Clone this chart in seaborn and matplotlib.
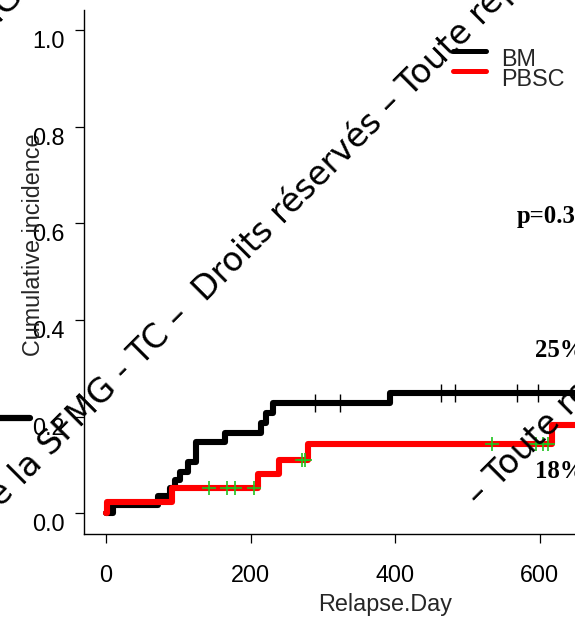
import numpy as np
import pandas as pd
import matplotlib
matplotlib.use("Agg")
import matplotlib.pyplot as plt
import seaborn as sns
from matplotlib.lines import Line2D
from matplotlib.transforms import ScaledTranslation

# ---------------- data ----------------
bm_day = [0, 10, 72, 88.5, 95, 102, 114, 125, 164.5, 215, 222, 231, 393, 720]
bm_ci = [0.0, 0.017, 0.036, 0.052, 0.069, 0.086, 0.107, 0.148, 0.167, 0.186, 0.207, 0.228, 0.248, 0.248]
bm_censor = [289, 323.5, 464, 482.5, 568, 598, 650]

pbsc_day = [0, 1, 91, 210.5, 239.6, 279.7, 617.6, 720]
pbsc_ci = [0.0, 0.024, 0.052, 0.081, 0.110, 0.143, 0.183, 0.183]
pbsc_censor = [143, 168, 178, 205, 271.4, 276, 534, 595.5, 604.6, 611.5]

groups = ["BM", "PBSC"]
group_colors = ["black", "red"]
x_ticks = [0, 200, 400, 600]
y_ticks = [0.0, 0.2, 0.4, 0.6, 0.8, 1.0]
y_tick_labels = ["0.0", "0.2", "0.4", "0.6", "0.8", "1.0"]
p_text = "p=0.3"
bm_pct = "25%"
pbsc_pct = "18%"
wm_prefix = "Document de la"
wm_main = "SFMG - TC \u2013  Droits réservés \u2013 Toute reproduction interdite"
wm_second = "\u2013 Toute reproduction interdite"

# ---------------- style ----------------
sns.set_style("ticks")
plt.rcParams["font.family"] = ["Liberation Sans", "DejaVu Sans"]

W, H = 575, 619
fig = plt.figure(figsize=(W / 100, H / 100), dpi=100)
ax = fig.add_axes([84 / W, 85 / H, 593 / W, 524 / H])

curves = pd.DataFrame({
    "day": bm_day + pbsc_day,
    "ci": bm_ci + pbsc_ci,
    "group": [groups[0]] * len(bm_day) + [groups[1]] * len(pbsc_day),
})
sns.lineplot(data=curves, x="day", y="ci", hue="group", hue_order=groups,
             palette=dict(zip(groups, group_colors)), estimator=None,
             drawstyle="steps-post", lw=4.4, legend=False, ax=ax,
             solid_joinstyle="round", solid_capstyle="round")


def step_value(days, vals, t):
    idx = np.searchsorted(days, t, side="right") - 1
    return np.asarray(vals)[idx]


bm_cy = step_value(bm_day, bm_ci, bm_censor)
pb_cy = step_value(pbsc_day, pbsc_ci, pbsc_censor)
sns.scatterplot(x=bm_censor, y=bm_cy, marker="|", s=150, color="black",
                linewidth=1.0, ax=ax, zorder=4, legend=False)
sns.scatterplot(x=pbsc_censor, y=pb_cy, marker="+", s=110, color="#1ec41e",
                linewidth=1.2, ax=ax, zorder=4, legend=False)

ax.set_xlim(-30.4, 790)
ax.set_ylim(-0.043, 1.0415)
ax.set_xticks(x_ticks)
ax.set_xticklabels([str(v) for v in x_ticks])
ax.set_yticks(y_ticks)
ax.set_yticklabels(y_tick_labels)
ax.set_xlabel("")
ax.set_ylabel("")
ax.tick_params(length=6.5, width=0.9, labelsize=16.8, color="black", labelcolor="black")
ax.tick_params(axis="x", pad=15)
ax.tick_params(axis="y", pad=7.2)
for s in ["top", "right"]:
    ax.spines[s].set_visible(False)
for s in ["left", "bottom"]:
    ax.spines[s].set_linewidth(1.0)
    ax.spines[s].set_color("black")

off = ScaledTranslation(0, -9 / 100, fig.dpi_scale_trans)
for lab in ax.get_yticklabels():
    lab.set_transform(lab.get_transform() + off)

# axis titles
fig.text(385 / W, 1 - 610.7 / H, "Relapse.Day", ha="center", va="baseline", fontsize=16.8)
fig.text(33.5 / W, 1 - 245 / H, "Cumulative incidence", ha="center", va="center",
         rotation=90, fontsize=16.8)

# legend
for i, (g, c) in enumerate(zip(groups, group_colors)):
    ly = 1 - (51 + 20 * i) / H
    fig.add_artist(Line2D([453 / W, 486 / W], [ly, ly], color=c, lw=3.6,
                          solid_capstyle="round", transform=fig.transFigure))
    fig.text(500.7 / W, 1 - (66 + 20 * i) / H, g, ha="left", va="baseline", fontsize=16.8)

# annotations
serif = dict(family=["Liberation Serif", "DejaVu Serif"], weight="bold", fontsize=17.8,
             ha="left", va="baseline", color="black")
ax.text(568.6, 0.6007, p_text, **serif)
ax.text(593, 0.3228, bm_pct, **serif)
ax.text(593, 0.0724, pbsc_pct, **serif)

# stray fragment at left edge
fig.add_artist(Line2D([0, 30 / W], [1 - 418 / H, 1 - 418 / H], color="black", lw=4.5,
                      transform=fig.transFigure))

# watermark lines
ang = 45
wm_fs = 24
sp = 0.318 * wm_fs * 100 / 72
wm = dict(rotation=ang, rotation_mode="anchor", va="baseline", fontsize=wm_fs,
          family="DejaVu Sans", color="black", zorder=10)
for axp, ayp in [(-43, 66), (51.5, 457.5)]:
    fig.text(axp / W, 1 - ayp / H, wm_main, ha="left", **wm)
    bx = axp - sp * np.cos(np.radians(ang))
    by = ayp + sp * np.sin(np.radians(ang))
    fig.text(bx / W, 1 - by / H, wm_prefix, ha="right", **wm)
fig.text(479 / W, 1 - 507 / H, wm_second, ha="left", **wm)

fig.savefig("out.png", dpi=100)
